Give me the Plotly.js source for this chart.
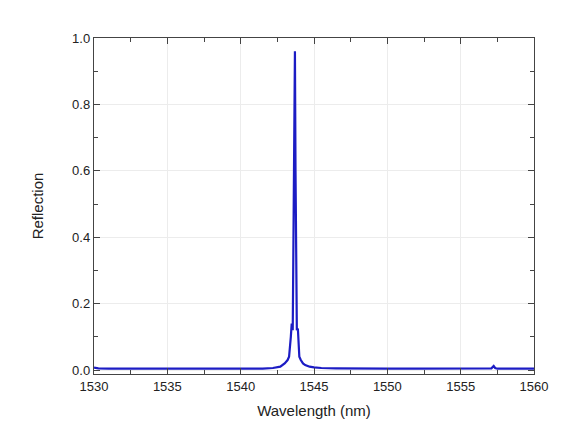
<!DOCTYPE html>
<html><head><meta charset="utf-8">
<script src="https://cdn.plot.ly/plotly-3.0.1.min.js"></script>
<style>html,body{margin:0;padding:0;background:#fff;}#chart{width:565px;height:448px;}</style>
</head><body><div id="chart"></div>
<script>
const wavelength = [1530.0,1530.3,1531,1532,1533.5,1535,1536.5,1538,1539.5,1540.5,1541.5,1542.2,1542.7,1543.0,1543.2,1543.3,1543.36,1543.42,1543.48,1543.55,1543.6,1543.65,1543.7,1543.74,1543.78,1543.83,1543.9,1543.95,1544.0,1544.1,1544.25,1544.4,1544.7,1545.0,1545.5,1546.5,1548,1550,1552,1554,1556,1557.1,1557.25,1557.35,1557.5,1558.5,1560.0];
const reflection = [0.007,0.005,0.004,0.004,0.003,0.004,0.003,0.003,0.004,0.004,0.004,0.006,0.01,0.02,0.03,0.04,0.09,0.10,0.14,0.12,0.40,0.67,0.96,0.60,0.25,0.12,0.125,0.09,0.04,0.03,0.02,0.015,0.01,0.008,0.006,0.005,0.004,0.004,0.004,0.004,0.004,0.005,0.012,0.006,0.004,0.004,0.004];
const xTicks = [1530,1535,1540,1545,1550,1555,1560];
const yTicks = [0.0,0.2,0.4,0.6,0.8,1.0];

const axisCommon = {
  showline:true, linecolor:'#444', linewidth:1.2, mirror:'ticks',
  ticks:'inside', ticklen:6, tickcolor:'#444',
  showgrid:true, gridcolor:'#ececec', gridwidth:1, zeroline:false,
  tickfont:{family:'Liberation Sans, Arial, sans-serif', size:13, color:'#222'}
};
Plotly.newPlot('chart', [{
  x: wavelength, y: reflection, type:'scatter', mode:'lines',
  line:{color:'#1c1cc4', width:2.2}, hoverinfo:'skip'
}], {
  width:565, height:448,
  margin:{l:94, r:31, t:38, b:74},
  paper_bgcolor:'#fff', plot_bgcolor:'#fff', showlegend:false,
  xaxis: Object.assign({}, axisCommon, {
    range:[1530,1560], tickvals:xTicks, ticktext:xTicks.map(String),
    minor:{ticks:'inside', dtick:2.5, tick0:1530, ticklen:4, tickcolor:'#444', showgrid:false},
    title:{text:'Wavelength (nm)', font:{family:'Liberation Sans, Arial, sans-serif', size:15, color:'#222'}, standoff:12}
  }),
  yaxis: Object.assign({}, axisCommon, {
    range:[-0.012,1.0], tickvals:yTicks, ticktext:yTicks.map(v=>v.toFixed(1)),
    minor:{ticks:'inside', dtick:0.1, tick0:0, ticklen:4, tickcolor:'#444', showgrid:false},
    title:{text:'Reflection', font:{family:'Liberation Sans, Arial, sans-serif', size:15, color:'#222'}, standoff:24}
  })
}, {staticPlot:true});
</script></body></html>
